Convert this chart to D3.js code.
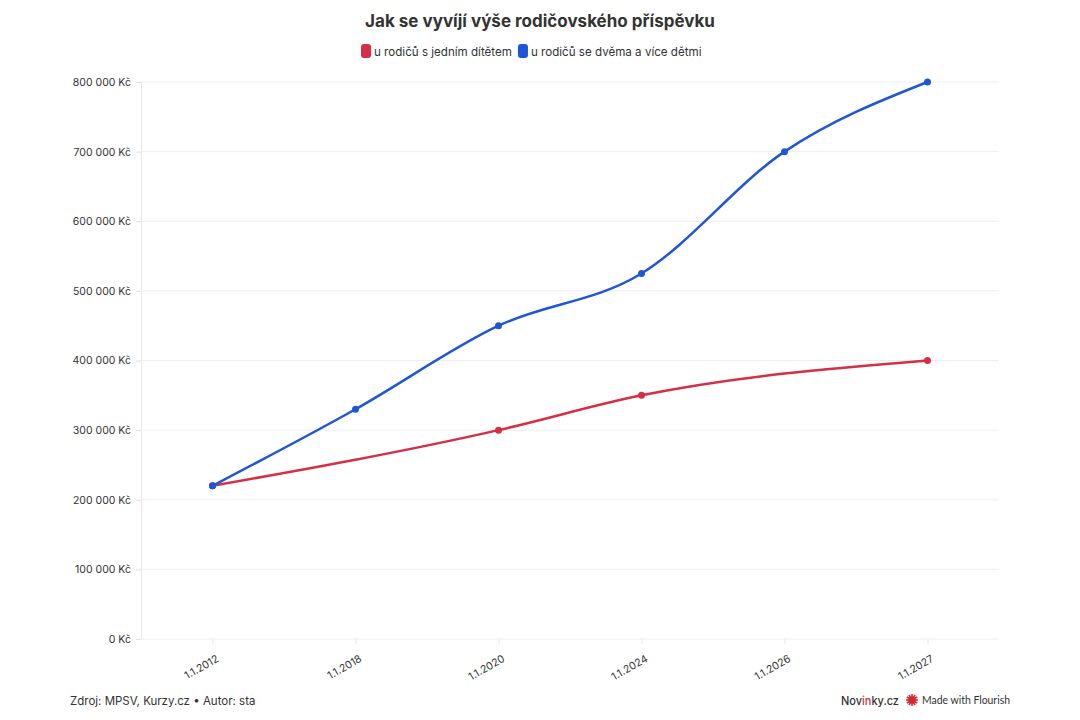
<!DOCTYPE html>
<html><head><meta charset="utf-8">
<script src="https://cdn.jsdelivr.net/npm/d3@7"></script>
<style>
body{margin:0;background:#fff;font-family:Inter,"Open Sans",sans-serif;}
svg{display:block}
</style></head><body>
<svg id="c" width="1080" height="720"></svg>
<script>
const categories = ["1.1.2012","1.1.2018","1.1.2020","1.1.2024","1.1.2026","1.1.2027"];
const seriesNames = ["u rodičů s jedním dítětem","u rodičů se dvěma a více dětmi"];
const seriesColors = ["#d62e45","#1f56d8"];
const oneChild = [220000, null, 300000, 350000, null, 400000];
const twoPlus = [220000, 330000, 450000, 525000, 700000, 800000];
const yTicks = [0,100000,200000,300000,400000,500000,600000,700000,800000];

const svg = d3.select("#c");
const L=141, R=999, T=82, B=639;
const x = d3.scalePoint().domain(categories).range([L,R]).padding(0.5);
const y = d3.scaleLinear().domain([0,800000]).range([B,T]);
const fmt = v => d3.format(",")(v).replace(/,/g," ") + " Kč";

svg.append("text").attr("x",540).attr("y",27).attr("text-anchor","middle")
  .attr("font-size",17).attr("font-weight",700).attr("fill","#333").text("Jak se vyvíjí výše rodičovského příspěvku");

// legend
const lg = svg.append("g");
let lx = 361;
seriesNames.forEach((n,i)=>{
  lg.append("rect").attr("x",lx).attr("y",44).attr("width",10).attr("height",14).attr("rx",3).attr("fill",seriesColors[i]);
  const t = lg.append("text").attr("x",lx+13).attr("y",55.5).attr("font-size",11.6).attr("fill","#333").text(n);
  lx += 13 + t.node().getComputedTextLength() + 6;
});

// grid
const ya = svg.append("g").attr("transform",`translate(${L},0)`)
  .call(d3.axisLeft(y).tickValues(yTicks).tickSize(5).tickPadding(5).tickFormat(fmt));
ya.select(".domain").attr("stroke","#e6e6e6");
ya.selectAll(".tick line").attr("stroke","#e0e0e0");
ya.selectAll(".tick text").attr("font-size",10.5).attr("fill","#333").attr("font-family","Inter,sans-serif");
svg.append("g").selectAll("line").data(yTicks).join("line")
  .attr("x1",L).attr("x2",R).attr("y1",d=>y(d)).attr("y2",d=>y(d)).attr("stroke","#eeeeee");

const xa = svg.append("g").attr("transform",`translate(0,${B})`)
  .call(d3.axisBottom(x).tickSize(5).tickPadding(4));
xa.select(".domain").remove();
xa.selectAll(".tick line").attr("stroke","#e6e6e6");
xa.selectAll(".tick text").attr("font-size",10.5).attr("fill","#333").attr("font-family","Inter,sans-serif")
  .attr("text-anchor","end").attr("dy",0).attr("transform","translate(2,14) rotate(-30)");

const data = [oneChild, twoPlus];
data.forEach((vals,i)=>{
  const pts = categories.map((c,j)=>({c,v:vals[j]})).filter(d=>d.v!=null);
  svg.append("path").datum(pts)
    .attr("d", d3.line().x(d=>x(d.c)).y(d=>y(d.v)).curve(d3.curveMonotoneX))
    .attr("fill","none").attr("stroke",seriesColors[i]).attr("stroke-width",2.5);
  svg.append("g").selectAll("circle").data(pts).join("circle")
    .attr("cx",d=>x(d.c)).attr("cy",d=>y(d.v)).attr("r",3.5).attr("fill",seriesColors[i]);
});

// footer
svg.append("text").attr("x",70).attr("y",705).attr("font-size",11.5).attr("fill","#333").text("Zdroj: MPSV, Kurzy.cz • Autor: sta");
const nv = svg.append("text").attr("x",841).attr("y",705).attr("font-size",12).attr("font-weight",500).attr("fill","#333")
  .attr("textLength",58).attr("lengthAdjust","spacingAndGlyphs");
nv.append("tspan").text("Nov");
nv.append("tspan").attr("fill","#d62e45").text("in");
nv.append("tspan").text("ky.cz");
const lgX=912, lgY=700;
const star = svg.append("g").attr("transform",`translate(${lgX},${lgY})`);
d3.range(12).forEach(k=>{
  const a = k*Math.PI/6;
  star.append("line").attr("x1",0).attr("y1",0).attr("x2",Math.cos(a)*6).attr("y2",Math.sin(a)*6)
    .attr("stroke","#d1262f").attr("stroke-width",1.6);
});
star.append("circle").attr("r",3.5).attr("fill","#d1262f");
svg.append("text").attr("x",922).attr("y",704).attr("font-size",11).attr("fill","#333").attr("font-family","Lato,sans-serif")
  .attr("textLength",88).attr("lengthAdjust","spacingAndGlyphs").text("Made with Flourish");
</script>
</body></html>
